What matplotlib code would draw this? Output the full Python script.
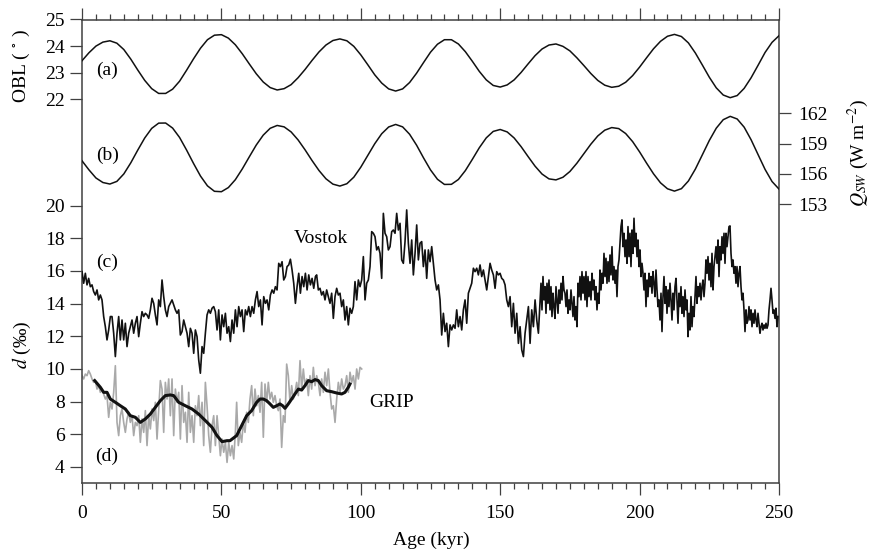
import matplotlib
matplotlib.use("Agg")
import matplotlib.pyplot as plt
import numpy as np
from matplotlib.ticker import MultipleLocator

plt.rcParams["font.family"] = ["Liberation Serif", "DejaVu Serif"]
plt.rcParams["mathtext.fontset"] = "stix"
plt.rcParams["font.size"] = 14

W, H = 870, 550

# orbital forcing, every 2.5 kyr from 0 to 250 kyr
orbit_age = np.arange(0, 250.1, 2.5)
obl = [23.45, 23.75, 24.00, 24.15, 24.20, 24.11, 23.87, 23.51, 23.10, 22.71,
       22.40, 22.22, 22.22, 22.38, 22.68, 23.09, 23.52, 23.92, 24.24, 24.41,
       24.43, 24.30, 24.05, 23.71, 23.33, 22.96, 22.65, 22.44, 22.35, 22.40,
       22.55, 22.81, 23.12, 23.46, 23.78, 24.04, 24.21, 24.27, 24.20, 23.99,
       23.67, 23.30, 22.92, 22.61, 22.39, 22.31, 22.39, 22.63, 22.98, 23.38,
       23.77, 24.07, 24.24, 24.24, 24.08, 23.79, 23.43, 23.05, 22.73, 22.52,
       22.46, 22.54, 22.73, 23.01, 23.33, 23.64, 23.89, 24.04, 24.08, 23.99,
       23.82, 23.56, 23.27, 22.97, 22.71, 22.53, 22.45, 22.49, 22.64, 22.89,
       23.21, 23.56, 23.90, 24.18, 24.37, 24.44, 24.36, 24.12, 23.74, 23.29,
       22.83, 22.43, 22.16, 22.06, 22.14, 22.41, 22.81, 23.28, 23.76, 24.14,
       24.39]
q_sw = [157.30, 156.40, 155.60, 155.15, 155.00, 155.26, 156.00, 157.10, 158.36, 159.56,
        160.51, 161.03, 161.04, 160.54, 159.61, 158.37, 157.04, 155.79, 154.82, 154.28,
        154.24, 154.65, 155.43, 156.50, 157.69, 158.86, 159.84, 160.52, 160.80, 160.66,
        160.16, 159.37, 158.39, 157.33, 156.34, 155.52, 154.99, 154.80, 155.03, 155.68,
        156.67, 157.83, 158.99, 159.98, 160.65, 160.90, 160.66, 159.93, 158.85, 157.59,
        156.40, 155.47, 154.96, 154.97, 155.45, 156.33, 157.44, 158.59, 159.57, 160.21,
        160.40, 160.16, 159.56, 158.70, 157.72, 156.77, 155.99, 155.51, 155.41, 155.67,
        156.24, 157.06, 158.00, 158.94, 159.76, 160.33, 160.59, 160.49, 160.00, 159.20,
        158.18, 157.07, 156.01, 155.12, 154.53, 154.30, 154.54, 155.30, 156.48, 157.89,
        159.31, 160.53, 161.37, 161.70, 161.44, 160.63, 159.38, 157.91, 156.45, 155.25,
        154.50]

# Vostok d-excess, three stretches with their own sample spacing
vostok_young = [15.96, 15.25, 15.86, 15.15, 15.55, 15.04, 15.15, 14.74, 14.53, 14.84,
                14.23, 14.53, 14.23, 13.21, 12.59, 11.78, 12.39, 13.21, 13.21, 12.19,
                10.76, 12.19, 13.21, 11.78, 13.00, 11.78, 12.80, 11.37, 12.19, 12.59,
                13.00, 12.19, 12.80, 13.21, 11.98, 12.80, 13.51, 13.21, 13.41, 13.31,
                13.10, 13.62, 14.33, 14.02, 13.31, 12.70, 14.23, 13.82, 15.45, 14.43,
                13.62, 13.21, 13.82, 14.02, 14.23, 13.92, 13.62, 13.41, 13.62, 12.08,
                12.29, 13.00, 12.59, 12.19, 11.37, 12.49, 12.19, 10.96, 12.39, 11.98,
                10.55, 9.74, 11.37, 10.96, 12.19, 13.31, 13.62, 13.41, 13.72, 13.82,
                13.51, 12.39, 13.62, 11.78, 13.31, 12.59, 13.41, 12.19, 12.59, 11.68,
                13.00, 12.19, 13.62, 12.59, 13.82, 13.21, 13.62, 12.29, 13.62, 13.31,
                13.82, 13.21, 13.82, 13.41, 14.23, 14.74, 13.82, 14.23, 12.70, 14.43,
                14.02, 14.23, 13.62, 14.53, 14.84, 14.64, 15.04, 14.84, 16.47, 16.27,
                16.57, 15.45, 15.66, 16.27, 16.37, 16.72, 16.06, 15.25, 14.02, 15.04,
                15.86, 14.64, 15.66, 15.04, 15.86, 14.84, 15.76, 15.15, 15.55, 14.94,
                15.66]
vostok_mid = [15.76, 14.84, 14.94, 14.53, 14.74, 14.23, 14.84, 14.43, 14.02, 14.64,
              13.10, 14.43, 14.94, 14.53, 14.64, 13.82, 14.23, 13.00, 13.82, 12.70,
              13.72, 13.41, 13.82, 15.35, 14.23, 15.45, 15.04, 15.45, 16.88, 14.23,
              15.25, 15.45, 16.27, 18.41, 18.31, 18.10, 17.29, 17.49, 17.08, 15.55,
              19.53, 18.31, 18.10, 17.29, 17.49, 18.41, 18.51, 18.31, 19.53, 18.51,
              18.92, 16.68, 16.47, 17.80, 19.74, 17.70, 16.47, 17.90, 15.76, 17.08,
              18.82, 16.68, 17.70, 17.80, 16.27, 17.29, 15.55, 17.29, 16.57, 17.49,
              16.47, 15.45, 14.84, 15.15, 14.23, 12.08, 13.41, 12.29, 12.80, 11.37,
              12.70, 12.39, 12.70, 12.49, 13.62, 12.59, 13.21, 12.39, 13.62, 14.23,
              12.80, 14.64, 14.94, 15.25, 16.17, 15.96, 16.17, 15.76, 16.37, 15.66,
              16.06, 15.45, 14.84, 15.66, 16.47, 16.06, 15.76, 14.94, 15.96, 15.76,
              15.86, 15.55, 15.45, 15.15, 14.23, 13.82, 14.43, 12.59, 14.02, 12.19,
              13.41, 11.57, 12.59, 11.17, 10.76, 12.19, 13.00, 13.82, 11.57, 13.62,
              12.59, 14.23, 13.00, 12.19]
vostok_old = [15.25, 13.62, 15.66, 14.23, 15.04, 13.41, 15.25, 14.02, 15.45, 13.62,
              15.04, 13.21, 14.64, 13.82, 13.10, 15.04, 14.23, 13.41, 14.84, 14.02,
              15.25, 14.23, 15.66, 14.84, 14.64, 13.82, 14.84, 13.41, 14.23, 13.62,
              14.84, 14.02, 13.21, 14.43, 13.00, 13.82, 12.59, 15.25, 14.43, 15.66,
              14.23, 15.96, 14.64, 15.66, 14.23, 15.96, 13.82, 15.66, 14.43, 15.35,
              14.23, 15.86, 14.84, 15.45, 14.23, 15.04, 13.62, 14.64, 14.02, 16.06,
              14.84, 15.86, 15.25, 17.08, 15.66, 16.78, 15.25, 16.57, 15.35, 16.98,
              15.76, 17.49, 15.45, 16.27, 15.25, 16.06, 14.43, 16.27, 16.68, 17.70,
              18.72, 19.13, 17.49, 18.31, 16.88, 17.90, 16.47, 18.72, 16.88, 18.31,
              16.27, 18.51, 17.08, 19.23, 17.49, 18.31, 16.88, 17.90, 16.27, 17.29,
              15.66, 16.47, 15.86, 14.84, 15.86, 13.82, 15.45, 14.43, 15.86, 15.04,
              15.66, 14.64, 15.96, 15.25, 14.43, 16.06, 14.84, 13.82, 14.23, 13.00,
              14.64, 12.29, 14.43, 15.66, 14.02, 15.04, 13.41, 14.84, 13.82, 15.25,
              14.23, 13.00, 14.64, 13.62, 15.04, 15.55, 14.23, 12.80, 14.64, 13.82,
              15.04, 13.41, 14.43, 13.21, 14.84, 13.62, 14.23, 11.98, 13.41, 12.39,
              14.43, 12.59, 13.82, 13.21, 14.43, 15.66, 14.02, 15.04, 14.43, 15.25,
              14.23, 15.04, 15.45, 14.43, 15.25, 16.68, 15.86, 16.88, 15.45, 16.47,
              15.04, 17.08, 14.84, 16.27, 16.88, 17.49, 16.47, 17.90, 15.66, 17.49,
              16.68, 18.10, 17.08, 18.31, 16.47, 18.31, 17.49, 18.10, 18.72, 18.76,
              17.08, 16.27, 16.68, 15.86, 16.27, 15.25, 16.27, 15.04, 15.86, 16.27,
              15.04, 14.23, 14.64, 13.62, 12.29, 13.62, 12.80, 13.00, 13.82, 13.00,
              13.62, 12.59, 13.41, 12.80, 13.62, 13.00, 12.59, 13.41, 12.80, 12.19,
              12.59, 12.80, 12.39, 12.70, 12.49, 12.80, 12.49, 12.70, 13.62, 14.23,
              14.94, 14.23, 13.41, 13.62, 13.10, 13.72, 12.59, 13.21]
vostok_age = np.concatenate([
    np.arange(len(vostok_young)) * 0.598,
    84.17 + np.arange(len(vostok_mid)) * 0.598,
    164.63 + np.arange(len(vostok_old)) * 0.3587,
])
vostok_d = np.concatenate([vostok_young, vostok_mid, vostok_old])

# GRIP d-excess (raw) and its running mean
grip_young = [9.59, 9.39, 9.69, 9.59, 9.90, 9.69, 9.39, 9.18, 9.29, 8.77,
              8.98, 8.57, 8.77, 8.47, 8.16, 8.37, 7.04, 7.96, 7.55, 8.57,
              10.20, 6.73, 5.92, 7.14, 7.55, 6.73, 6.12, 6.94, 7.35, 6.73,
              7.14, 5.92, 6.73, 6.53, 7.14, 5.51, 6.94, 6.12, 7.45, 5.31,
              7.14, 6.33, 7.55, 6.84, 7.96, 5.71, 7.55, 9.29, 8.77, 6.12,
              9.18, 8.16, 9.39, 7.14, 9.39, 5.92, 8.77, 7.96, 8.57, 5.71,
              8.98, 6.73, 7.35, 5.51, 8.57, 6.12, 7.14, 5.51, 7.75, 7.14,
              8.37, 6.53, 7.96, 5.31, 9.18, 7.75, 5.92, 4.90, 6.53, 7.14,
              5.31, 7.14, 5.92, 4.69, 5.71, 4.90, 5.51, 4.28, 5.51, 4.69,
              5.31, 4.49, 6.12]
grip_old = [7.96, 5.31, 6.12, 5.51, 6.73, 6.12, 7.35, 6.73, 8.16, 8.98,
            7.14, 8.77, 7.75, 8.37, 7.35, 9.18, 5.82, 9.08, 7.96, 9.18,
            8.16, 8.57, 7.96, 8.37, 7.75, 7.45, 8.16, 5.20, 7.14, 6.73,
            10.30, 9.59, 7.96, 8.98, 8.16, 8.57, 9.18, 8.37, 10.51, 8.77,
            10.00, 8.98, 9.39, 8.37, 9.59, 8.77, 10.10, 8.98, 9.59, 9.18,
            8.37, 9.39, 8.57, 9.80, 8.98, 10.00, 8.57, 7.55, 7.75, 6.73,
            8.16, 9.18, 8.57, 9.39, 8.77, 8.98, 9.59, 8.57, 9.80, 9.18,
            9.59, 8.77, 10.00, 9.39, 10.10, 10.00]
grip_age = np.concatenate([
    np.arange(len(grip_young)) * 0.598,
    55.47 + np.arange(len(grip_old)) * 0.598,
])
grip_d = np.concatenate([grip_young, grip_old])

grip_smooth_age = [4.54, 6.58, 7.77, 8.97, 10.16, 11.96, 13.75, 15.54, 17.34, 19.13,
                   20.92, 22.72, 24.51, 26.30, 28.10, 29.89, 31.68, 32.88, 34.67, 37.06,
                   39.45, 41.85, 44.24, 46.63, 48.42, 50.22, 52.01, 53.08, 55.47, 57.26,
                   59.06, 60.85, 62.64, 63.84, 65.04, 66.23, 67.43, 68.62, 69.82, 71.01,
                   71.97, 72.81, 74.00, 75.20, 76.39, 77.59, 78.79, 79.98, 81.18, 82.37,
                   83.57, 84.76, 85.96, 87.75, 89.55, 91.34, 93.13, 94.33, 95.52, 96.12]
grip_smooth_d = [9.29, 8.88, 8.57, 8.57, 8.16, 7.96, 7.75, 7.55, 7.14, 7.04,
                 6.73, 6.94, 7.24, 7.65, 8.06, 8.37, 8.41, 8.37, 7.96, 7.75,
                 7.55, 7.24, 6.84, 6.43, 5.92, 5.55, 5.61, 5.61, 5.92, 6.53,
                 7.14, 7.45, 7.96, 8.16, 8.16, 8.06, 7.86, 7.65, 7.75, 7.86,
                 7.75, 7.59, 7.86, 8.16, 8.47, 8.77, 8.71, 8.98, 9.29, 9.22,
                 9.35, 9.29, 8.98, 8.67, 8.61, 8.53, 8.47, 8.57, 8.88, 9.08]

spine_col = "#404040"

fig = plt.figure(figsize=(W / 100, H / 100), dpi=100)
ax = fig.add_axes([82 / W, 1 - 483.3 / H, (779 - 82) / W, (483.3 - 19.5) / H])

# lower panel: d-excess records
ax.plot(grip_age, grip_d, color="#a9a9a9", lw=1.2, zorder=2)
ax.plot(grip_smooth_age, grip_smooth_d, color="#111111", lw=2.2, zorder=3)
ax.plot(vostok_age, vostok_d, color="#111111", lw=1.2, zorder=3)

ax.set_xlim(0, 250)
ax.set_ylim(3, 31.4)
ax.set_yticks(range(4, 21, 2))
ax.set_xticks(range(0, 251, 50))
ax.xaxis.set_minor_locator(MultipleLocator(5))
ax.tick_params(axis="x", which="both", direction="out", top=True, bottom=True,
               color=spine_col, width=0.9)
ax.tick_params(axis="x", which="major", length=8.5, pad=7)
ax.tick_params(axis="x", which="minor", length=4)
ax.tick_params(axis="y", direction="out", length=8.5, width=0.9, color=spine_col, pad=4)
for s in ax.spines.values():
    s.set_color(spine_col)
    s.set_linewidth(1.1)

# obliquity on its own left scale
ax_obl = ax.twinx()
ax_obl.yaxis.tick_left()
ax_obl.plot(orbit_age, obl, color="#111111", lw=1.1)
ax_obl.set_ylim(7.56, 25)
ax_obl.set_yticks([22, 23, 24, 25])
ax_obl.tick_params(axis="y", direction="out", length=8.5, width=0.9, color=spine_col, pad=4)

# summer insolation on the right
ax_q = ax.twinx()
ax_q.plot(orbit_age, q_sw, color="#111111", lw=1.1)
ax_q.set_ylim(125.37, 171.29)
ax_q.set_yticks([153, 156, 159, 162])
ax_q.tick_params(axis="y", direction="out", length=8.5, width=0.9, color=spine_col, pad=5)

for a in (ax_obl, ax_q):
    for s in a.spines.values():
        s.set_visible(False)

# panel tags and record names
ax.text(9.0, 28.31, "(a)", ha="center", va="center")
ax.text(9.0, 23.10, "(b)", ha="center", va="center")
ax.text(9.0, 16.55, "(c)", ha="center", va="center")
ax.text(9.0, 4.67, "(d)", ha="center", va="center")
ax.text(85.7, 17.96, "Vostok", ha="center", va="center")
ax.text(111.2, 7.97, "GRIP", ha="center", va="center")

# axis titles
fig.text(21 / W, 1 - 66 / H, r"OBL ( $^{\circ}$ )", rotation=90, ha="center", va="center")
fig.text(22 / W, 1 - 345 / H, r"$d$ (‰)", rotation=90, ha="center", va="center")
fig.text(858 / W, 1 - 153 / H, r"$Q_{SW}$ (W m$^{-2}$)", rotation=90, ha="center", va="center")
fig.text(431 / W, 1 - 540 / H, "Age (kyr)", ha="center", va="center")

fig.savefig("out.png", dpi=100)
